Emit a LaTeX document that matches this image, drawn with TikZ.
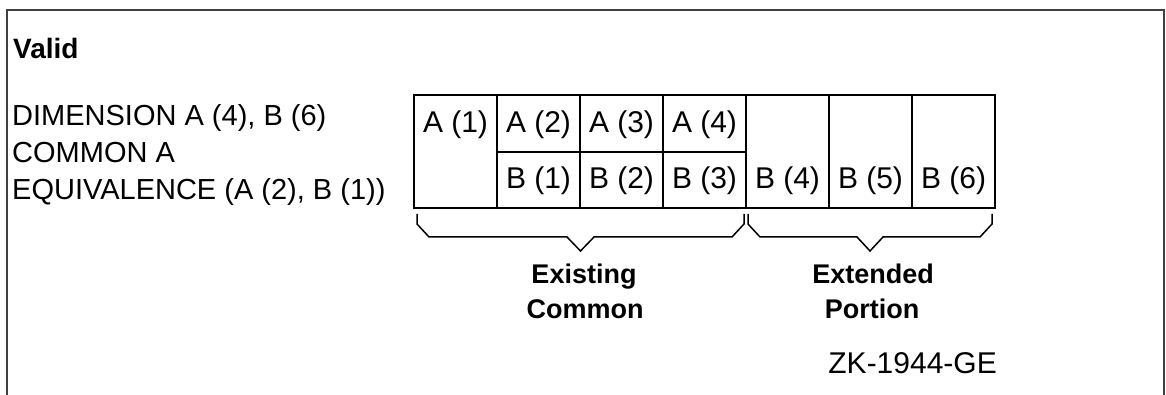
\documentclass[tikz,border=0pt]{standalone}
\usepackage{fontspec}
\setmainfont{Liberation Sans}
\usetikzlibrary{positioning}

\begin{document}
\begin{tikzpicture}[x = 1pt, y = -1pt,
  txt/.style = {anchor = base west, inner sep = 0pt, font = \fontsize{29}{34}\selectfont},
  cell/.style = {anchor = base, inner sep = 0pt, font = \fontsize{30}{34}\selectfont},
  lbl/.style = {anchor = base, inner sep = 0pt, font = \bfseries\fontsize{27}{32}\selectfont},
  grid/.style = {line width = 2pt},
  brace/.style = {line width = 1.5pt, line join = miter}]
\useasboundingbox (0, 0) rectangle (1166, 395);

% frame
\draw[line width = 2pt, black!75] (7, 395) -- (7, 10) -- (1164, 10) -- (1164, 395);

% statements
\node[txt, font = \bfseries\fontsize{28}{34}\selectfont] (valid) at (13, 59) {Valid};
\node[txt] (dim) at (12, 126) {DIMENSION A (4), B (6)};
\node[txt] (com) at (12, 163) {COMMON A};
\node[txt] (equ) at (12, 200) {EQUIVALENCE (A (2), B (1))};

% storage cells
\draw[grid] (414, 95) rectangle (995, 208);
\draw[grid] (497, 95) -- (497, 208);
\draw[grid] (580, 95) -- (580, 208);
\draw[grid] (663, 95) -- (663, 208);
\draw[grid] (746, 95) -- (746, 208);
\draw[grid] (829, 95) -- (829, 208);
\draw[grid] (912, 95) -- (912, 208);
\draw[grid] (497, 152) -- (746, 152);

\def\ya{133}
\def\yb{189}
\node[cell] (a1) at (455.5, \ya) {A (1)};
\node[cell] (a2) at (538.5, \ya) {A (2)};
\node[cell] (a3) at (621.5, \ya) {A (3)};
\node[cell] (a4) at (704.5, \ya) {A (4)};
\node[cell] (b1) at (538.5, \yb) {B (1)};
\node[cell] (b2) at (621.5, \yb) {B (2)};
\node[cell] (b3) at (704.5, \yb) {B (3)};
\node[cell] (b4) at (787.5, \yb) {B (4)};
\node[cell] (b5) at (870.5, \yb) {B (5)};
\node[cell] (b6) at (953.5, \yb) {B (6)};

% braces
\draw[brace] (417, 214) -- (417, 224) -- (429, 237) -- (567, 237) -- (580.5, 251)
  -- (594, 237) -- (732, 237) -- (744, 224) -- (744, 214);
\draw[brace] (748, 214) -- (748, 224) -- (760, 237) -- (857, 237) -- (870, 251)
  -- (883, 237) -- (980, 237) -- (992, 224) -- (992, 214);

\node[lbl] (existing) at (584, 283) {Existing};
\node[lbl] (common) at (585, 318) {Common};
\node[lbl] (extended) at (873, 283) {Extended};
\node[lbl] (portion) at (872, 318) {Portion};

\node[txt, anchor = base east, font = \fontsize{30}{34}\selectfont] (fig) at (997, 373) {ZK-1944-GE};

\end{tikzpicture}
\end{document}
